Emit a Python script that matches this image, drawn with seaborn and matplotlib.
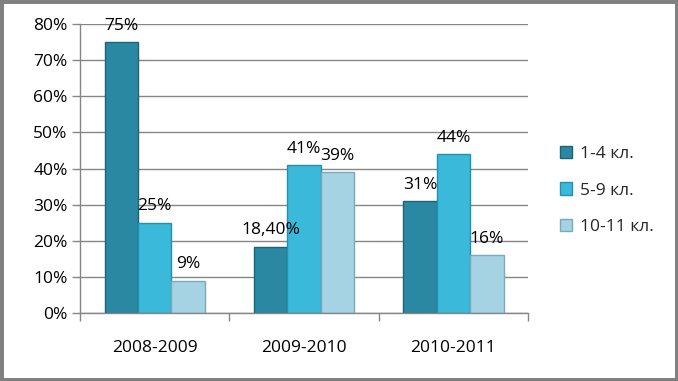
import matplotlib
matplotlib.use("Agg")
import matplotlib.pyplot as plt
import matplotlib.patches as mpatches
import seaborn as sns
import pandas as pd

# data
years = ["2008-2009", "2009-2010", "2010-2011"]
grades = ["1-4 кл.", "5-9 кл.", "10-11 кл."]
grade_1_4 = [75, 18.4, 31]
grade_5_9 = [25, 41, 44]
grade_10_11 = [9, 39, 16]
y_ticks = [0, 10, 20, 30, 40, 50, 60, 70, 80]

colors = ["#2b88a2", "#3bb9da", "#a6d3e3"]
edges = ["#1d6378", "#2590ad", "#7aa9ba"]

rows = []
for g, vals in zip(grades, [grade_1_4, grade_5_9, grade_10_11]):
    for y, v in zip(years, vals):
        rows.append({"year": y, "grade": g, "value": v})
df = pd.DataFrame(rows)

sns.set_theme(style="white")
plt.rcParams["font.family"] = ["Open Sans", "DejaVu Sans"]
fs = 12.5

fig = plt.figure(figsize=(6.78, 3.81), dpi=100)
ax = fig.add_axes([0.118, 0.178, 0.661, 0.759])

sns.barplot(data=df, x="year", y="value", hue="grade", palette=colors,
            width=0.67, gap=0, ax=ax, saturation=1, legend=False)

for cont, ec in zip(ax.containers, edges):
    for bar in cont:
        bar.set_edgecolor(ec)
        bar.set_linewidth(1.0)

def fmt(v):
    if float(v).is_integer():
        return f"{v:.0f}%"
    return f"{v:.2f}".replace(".", ",") + "%"

for cont, vals in zip(ax.containers, [grade_1_4, grade_5_9, grade_10_11]):
    ax.bar_label(cont, labels=[fmt(v) for v in vals], padding=6,
                 fontsize=fs, color="#000000")

ax.set_ylim(0, 80)
ax.set_yticks(y_ticks)
ax.set_yticklabels([f"{t}%" for t in y_ticks], fontsize=fs, color="#000000")
ax.set_xlim(-0.5, 2.5)
ax.set_xticks([-0.5, 0.5, 1.5, 2.5], minor=False)
ax.set_xticklabels([])
ax.set_xticks([0, 1, 2], minor=True)
ax.set_xticklabels(years, minor=True, fontsize=fs, color="#000000")
ax.tick_params(axis="x", which="major", length=6, color="#868686", width=1, direction="out", bottom=True)
ax.tick_params(axis="x", which="minor", length=0, pad=19)
ax.tick_params(axis="y", length=6, color="#868686", width=1, direction="out", left=True, pad=3)
ax.set_xlabel("")
ax.set_ylabel("")

ax.yaxis.grid(True, color="#868686", linewidth=1)
ax.set_axisbelow(True)
for s in ["top", "right"]:
    ax.spines[s].set_visible(False)
for s in ["left", "bottom"]:
    ax.spines[s].set_color("#868686")
    ax.spines[s].set_linewidth(1)

handles = [mpatches.Patch(facecolor=c, edgecolor=e, label=g) for c, e, g in zip(colors, edges, grades)]
fig.legend(handles=handles, loc="center left", bbox_to_anchor=(0.803, 0.50),
           frameon=False, fontsize=fs, handlelength=0.7, handleheight=0.7,
           handletextpad=0.45, labelspacing=1.15)

fig.patches.append(mpatches.Rectangle((0, 0), 1, 1, transform=fig.transFigure,
                                      fill=False, edgecolor="#808080", linewidth=5))

fig.savefig("out.png", dpi=100)
